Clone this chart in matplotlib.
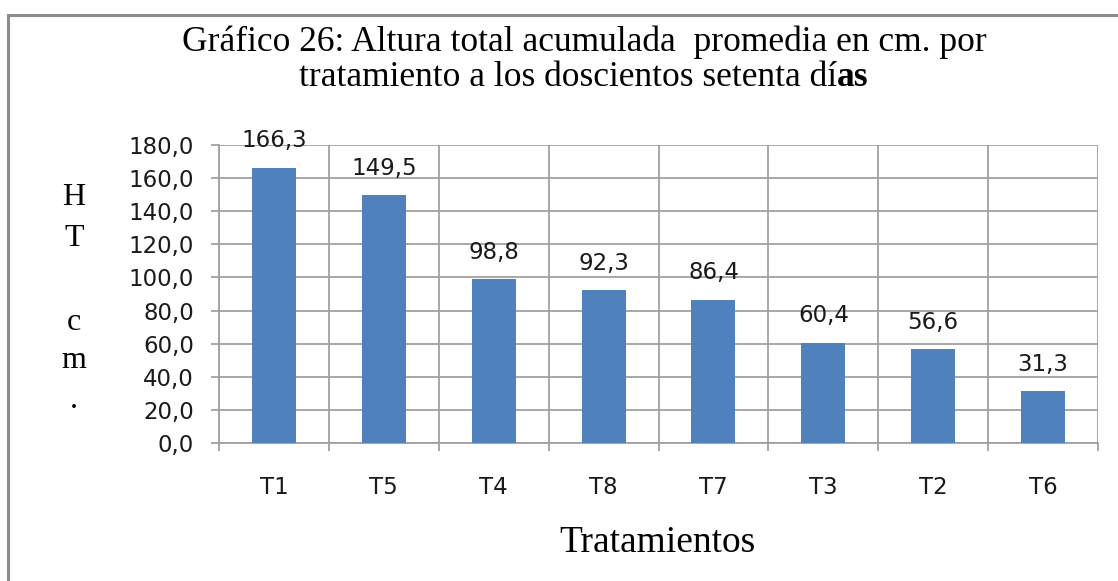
import matplotlib
matplotlib.use('Agg')
import matplotlib.pyplot as plt
from matplotlib.patches import Rectangle

# data
tratamientos = ['T1', 'T5', 'T4', 'T8', 'T7', 'T3', 'T2', 'T6']
altura = [166.3, 149.5, 98.8, 92.3, 86.4, 60.4, 56.6, 31.3]
yticks = [0, 20, 40, 60, 80, 100, 120, 140, 160, 180]

W, H = 1118, 581
fig = plt.figure(figsize=(W / 100, H / 100), dpi=100)
serif = 'Liberation Serif'
sans = 'DejaVu Sans'
grey = '#a0a0a0'
fs = 16.5

# outer frame of the chart
fig.patches.append(Rectangle((8 / W, -0.05), 1.2, 1 - 15 / H + 0.05, transform=fig.transFigure,
                             fill=False, edgecolor='#8c8c8c', linewidth=2.2))

ax = fig.add_axes([219 / W, 138 / H, 879 / W, 298 / H])
x = range(len(tratamientos))
ax.bar(x, altura, width=0.4, color='#4f81bd', zorder=3)

for xi, v in zip(x, altura):
    ax.annotate(('%.1f' % v).replace('.', ','), (xi, v), xytext=(0, 19.5), textcoords='offset points',
                ha='center', va='center', fontsize=fs, family=sans, color='#1a1a1a', zorder=4)

ax.set_xlim(-0.5, len(tratamientos) - 0.5)
ax.set_ylim(0, 180)
ax.set_yticks(yticks)
ax.set_yticklabels([('%.1f' % t).replace('.', ',') for t in yticks], family=sans, fontsize=fs, color='#1a1a1a')
ax.set_xticks(list(x))
ax.set_xticklabels(tratamientos, family=sans, fontsize=fs, color='#1a1a1a')
ax.set_xticks([i - 0.5 for i in range(len(tratamientos) + 1)], minor=True)
ax.tick_params(axis='x', which='major', length=0, pad=24)
ax.tick_params(axis='x', which='minor', length=6, color=grey, width=1.3)
ax.tick_params(axis='y', length=6, color=grey, width=1.3, pad=12)

ax.grid(axis='y', color=grey, linewidth=1.3, zorder=0)
ax.grid(axis='x', which='minor', color=grey, linewidth=1.3, zorder=0)
for s in ['left', 'bottom']:
    ax.spines[s].set_color(grey)
    ax.spines[s].set_linewidth(1.3)
for s in ['top', 'right']:
    ax.spines[s].set_visible(False)

# title, last two letters in bold as in the original
tfs = 25.5
fig.text(584 / W, 1 - 51 / H, 'Gráfico 26: Altura total acumulada  promedia en cm. por',
         ha='center', va='baseline', fontsize=tfs, family=serif)
t1 = fig.text(0, 1 - 86 / H, 'tratamiento a los doscientos setenta dí', ha='left', va='baseline',
              fontsize=tfs, family=serif)
t2 = fig.text(0, 1 - 86 / H, 'as', ha='left', va='baseline', fontsize=tfs, family=serif, weight='bold')
fig.canvas.draw()
r = fig.canvas.get_renderer()
w1 = t1.get_window_extent(r).width
w2 = t2.get_window_extent(r).width
x0 = 584 - (w1 + w2) / 2
t1.set_x(x0 / W)
t2.set_x((x0 + w1) / W)

# vertical y label, one letter per line
for ch, yp in zip(['H', 'T', 'c', 'm', '.'], [198, 238, 322, 360, 400]):
    fig.text(74 / W, 1 - yp / H, ch, ha='center', va='center', fontsize=23, family=serif)

fig.text(657 / W, 1 - 552 / H, 'Tratamientos', ha='center', va='baseline', fontsize=27, family=serif)

fig.savefig('out.png', dpi=100)
